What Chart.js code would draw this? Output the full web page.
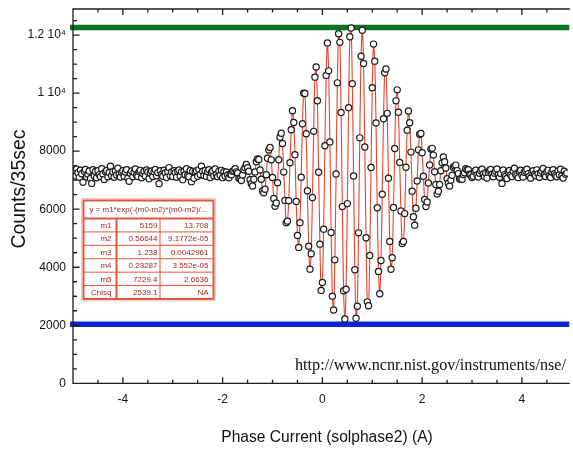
<!DOCTYPE html>
<html>
<head>
<meta charset="utf-8">
<script src="https://cdn.jsdelivr.net/npm/chart.js@4.4.0/dist/chart.umd.min.js"></script>
<style>
  html, body { margin: 0; padding: 0; background: #fff; }
</style>
</head>
<body>
<canvas id="echo" width="573" height="451"></canvas>
<script>
// phase current scan (A)
const phaseCurrent = [
  -5, -4.975, -4.95, -4.925, -4.9, -4.875, -4.85, -4.825, -4.8, -4.775,
  -4.75, -4.725, -4.7, -4.675, -4.65, -4.625, -4.6, -4.575, -4.55, -4.525,
  -4.5, -4.475, -4.45, -4.425, -4.4, -4.375, -4.35, -4.325, -4.3, -4.275,
  -4.25, -4.225, -4.2, -4.175, -4.15, -4.125, -4.1, -4.075, -4.05, -4.025,
  -4, -3.975, -3.95, -3.925, -3.9, -3.875, -3.85, -3.825, -3.8, -3.775,
  -3.75, -3.725, -3.7, -3.675, -3.65, -3.625, -3.6, -3.575, -3.55, -3.525,
  -3.5, -3.475, -3.45, -3.425, -3.4, -3.375, -3.35, -3.325, -3.3, -3.275,
  -3.25, -3.225, -3.2, -3.175, -3.15, -3.125, -3.1, -3.075, -3.05, -3.025,
  -3, -2.975, -2.95, -2.925, -2.9, -2.875, -2.85, -2.825, -2.8, -2.775,
  -2.75, -2.725, -2.7, -2.675, -2.65, -2.625, -2.6, -2.575, -2.55, -2.525,
  -2.5, -2.475, -2.45, -2.425, -2.4, -2.375, -2.35, -2.325, -2.3, -2.275,
  -2.25, -2.225, -2.2, -2.175, -2.15, -2.125, -2.1, -2.075, -2.05, -2.025,
  -2, -1.975, -1.95, -1.925, -1.9, -1.875, -1.85, -1.825, -1.8, -1.775,
  -1.75, -1.725, -1.7, -1.675, -1.65, -1.625, -1.6, -1.575, -1.55, -1.525,
  -1.5, -1.475, -1.45, -1.425, -1.4, -1.375, -1.35, -1.325, -1.3, -1.275,
  -1.25, -1.225, -1.2, -1.175, -1.15, -1.125, -1.1, -1.075, -1.05, -1.025,
  -1, -0.975, -0.95, -0.925, -0.9, -0.875, -0.85, -0.825, -0.8, -0.775,
  -0.75, -0.725, -0.7, -0.675, -0.65, -0.625, -0.6, -0.575, -0.55, -0.525,
  -0.5, -0.475, -0.45, -0.425, -0.4, -0.375, -0.35, -0.325, -0.3, -0.275,
  -0.25, -0.225, -0.2, -0.175, -0.15, -0.125, -0.1, -0.075, -0.05, -0.025,
  0, 0.025, 0.05, 0.075, 0.1, 0.125, 0.15, 0.175, 0.2, 0.225,
  0.25, 0.275, 0.3, 0.325, 0.35, 0.375, 0.4, 0.425, 0.45, 0.475,
  0.5, 0.525, 0.55, 0.575, 0.6, 0.625, 0.65, 0.675, 0.7, 0.725,
  0.75, 0.775, 0.8, 0.825, 0.85, 0.875, 0.9, 0.925, 0.95, 0.975,
  1, 1.025, 1.05, 1.075, 1.1, 1.125, 1.15, 1.175, 1.2, 1.225,
  1.25, 1.275, 1.3, 1.325, 1.35, 1.375, 1.4, 1.425, 1.45, 1.475,
  1.5, 1.525, 1.55, 1.575, 1.6, 1.625, 1.65, 1.675, 1.7, 1.725,
  1.75, 1.775, 1.8, 1.825, 1.85, 1.875, 1.9, 1.925, 1.95, 1.975,
  2, 2.025, 2.05, 2.075, 2.1, 2.125, 2.15, 2.175, 2.2, 2.225,
  2.25, 2.275, 2.3, 2.325, 2.35, 2.375, 2.4, 2.425, 2.45, 2.475,
  2.5, 2.525, 2.55, 2.575, 2.6, 2.625, 2.65, 2.675, 2.7, 2.725,
  2.75, 2.775, 2.8, 2.825, 2.85, 2.875, 2.9, 2.925, 2.95, 2.975,
  3, 3.025, 3.05, 3.075, 3.1, 3.125, 3.15, 3.175, 3.2, 3.225,
  3.25, 3.275, 3.3, 3.325, 3.35, 3.375, 3.4, 3.425, 3.45, 3.475,
  3.5, 3.525, 3.55, 3.575, 3.6, 3.625, 3.65, 3.675, 3.7, 3.725,
  3.75, 3.775, 3.8, 3.825, 3.85, 3.875, 3.9, 3.925, 3.95, 3.975,
  4, 4.025, 4.05, 4.075, 4.1, 4.125, 4.15, 4.175, 4.2, 4.225,
  4.25, 4.275, 4.3, 4.325, 4.35, 4.375, 4.4, 4.425, 4.45, 4.475,
  4.5, 4.525, 4.55, 4.575, 4.6, 4.625, 4.65, 4.675, 4.7, 4.725,
  4.75, 4.775, 4.8, 4.825, 4.85, 4.875, 4.9
];

// counts per 35 sec, same order as phaseCurrent
const counts = [
  // flat part, left
  7215, 7330, 7140, 7382, 7256, 7098, 7341, 7224, 6925, 7305,
  7370, 7112, 7208, 7316, 7059, 6890, 7358, 7156, 7300, 7085,
  7324, 7193, 7130, 7392, 7212, 7026, 7288, 7335, 7121, 7268,
  7480, 7153, 7291, 7100, 7314, 7179, 7415, 7202, 7109, 7277,
  7329, 7136, 7284, 7361, 7068, 6960, 7238, 7320, 7115, 7273,
  7387, 7171, 7128, 7296, 7340, 7080, 7227, 7309, 7144, 7355,
  7282, 7053, 7246, 7318, 7123, 7291, 7372, 7149, 7261, 6880,
  7327, 7198, 7135, 7346, 7254, 7091, 7299, 7434, 7156, 7280,
  7128, 7323, 7262, 7100, 7301, 7349, 7145, 7287, 7018, 7310,
  7190, 7395, 7161, 7118, 7332, 6950, 7304, 7070, 7283, 7326,
  7139, 7365, 7196, 7480, 7308, 7165, 7337, 7131, 7292, 7359,
  7093, 7266, 7321, 7150, 7385, 7194, 7122, 7314, 7169, 7340,
  7088, 7295, 7146, 7280,
  // echo fringes
  7181, 7084, 7208, 7191, 7311, 7320,
  7396, 7287, 7252, 7070, 7050, 6990, 7178, 7359, 7432, 7539,
  7430, 7310, 7013, 6880, 6802, 7034, 7285, 7638, 7729, 7717,
  7353, 7033, 6625, 6563, 6686, 7187, 7757, 8041, 8126, 7701,
  7094, 6373, 6099, 6214, 6913, 7705, 8483, 8618, 8265, 7279,
  6304, 5536, 5589, 6289, 7601, 8739, 9392, 8986, 7881, 6266,
  5093, 4684, 5536, 7104, 8944, 9994, 9986, 8599, 6638, 4722,
  3934, 4466, 6402, 8683, 10552, 10903, 9737, 7274, 4795, 3202,
  3475, 5312, 8187, 10612, 11731, 10769, 8320, 5197, 3004, 2526,
  4254, 7214, 10354, 12047, 11750, 9336, 6089, 3192, 2215, 3239,
  6194, 9500, 11942, 12247, 10327, 7148, 3911, 2243, 2656, 5186,
  8459, 11272, 12165, 11022, 8143, 5014, 2807, 2671, 4408, 7440,
  10190, 11690, 11102, 8969, 6052, 3851, 3084, 4231, 6514, 9120,
  10702, 10831, 9304, 7066, 4889, 3933, 4329, 6059, 8090, 9734,
  10113, 9342, 7613, 5941, 4816, 4891, 5849, 7444, 8724, 9384,
  8979, 7968, 6622, 5744, 5451, 6035, 6974, 8046, 8583, 8612,
  7944, 7138, 6337, 6095, 6250, 6903, 7525, 8071, 8098, 7864,
  7290, 6854, 6520, 6622, 6855, 7323, 7597, 7797, 7634, 7419,
  7048, 6895, 6796, 7000, 7169, 7446, 7486, 7520, 7330, 7227,
  7038, 7056, 7033, 7197, 7255, 7396, 7351, 7363, 7209, 7189,
  7091,
  // flat part, right
  7140, 7302, 7345, 7181, 7106, 7238, 7327, 7380, 7212,
  7129, 7254, 7078, 7276, 7333, 7367, 7205, 7120, 7243, 7312,
  7388, 7186, 7099, 7228, 6890, 7350, 7192, 7135, 7059, 7294,
  7336, 7178, 7123, 7321, 7412, 7200, 7150, 7087, 7298, 7344,
  7171, 7112, 7276, 7329, 7375, 7227, 7138, 7065, 7269, 7323,
  7206, 7154, 7356, 7218, 7102, 7249, 7316, 7401, 7185, 7128,
  7290, 7339, 7147, 7091, 7284, 7358, 7222, 7161, 7116, 7318,
  7190, 7380, 7152, 7075, 7306, 7209, 7245
];

// reference levels (max / min of the echo)
const upperLevel = 12260;
const lowerLevel = 2035;

const xTickValues = [-4, -2, 0, 2, 4];
const yTickValues = [0, 2000, 4000, 6000, 8000, 10000, 12000];

const xTitle = 'Phase Current (solphase2) (A)';
const yTitle = 'Counts/35sec';

// fit result box
const fitFormula = 'y = m1*exp(-(m0-m2)*(m0-m2)/...';
const fitNames = ['m1', 'm2', 'm3', 'm4', 'm5', 'Chisq'];
const fitValues = ['5159', '0.56644', '1.238', '0.23287', '7229.4', '2539.1'];
const fitErrors = ['13.708', '9.1772e-05', '0.0042961', '3.552e-05', '2.6636', 'NA'];

const sourceUrl = 'http://www.ncnr.nist.gov/instruments/nse/';

const points = phaseCurrent.map((x, i) => ({ x: x, y: counts[i] }));

const SANS = '"Liberation Sans", Arial, Helvetica, sans-serif';

const frameAndNotes = {
    id: 'frameAndNotes',
    afterDraw(chart) {
        const ctx = chart.ctx;
        const area = chart.chartArea;
        const xs = chart.scales.x;
        const ys = chart.scales.y;

        ctx.save();
        // axes box with inward ticks
        ctx.strokeStyle = '#1c1c1c';
        ctx.lineWidth = 1.3;
        ctx.beginPath();
        ctx.moveTo(area.right + 2, area.top);
        ctx.lineTo(area.left, area.top);
        ctx.lineTo(area.left, area.bottom);
        ctx.lineTo(area.right + 2, area.bottom);
        for (let i = 0; -5 + i * 0.5 <= xs.max; i++) {
            const v = -5 + i * 0.5;
            const px = xs.getPixelForValue(v);
            const len = v % 2 === 0 ? 6 : 3.5;
            ctx.moveTo(px, area.bottom);
            ctx.lineTo(px, area.bottom - len);
            ctx.moveTo(px, area.top);
            ctx.lineTo(px, area.top + len);
        }
        for (let v = 500; v <= ys.max; v += 500) {
            const py = ys.getPixelForValue(v);
            const len = v % 2000 === 0 ? 6.5 : 4;
            ctx.moveTo(area.left, py);
            ctx.lineTo(area.left + len, py);
        }
        ctx.stroke();

        // axis titles
        ctx.fillStyle = '#111';
        ctx.textAlign = 'center';
        ctx.textBaseline = 'middle';
        ctx.font = '15.6px ' + SANS;
        ctx.fillText(xTitle, 327, 438);
        ctx.save();
        ctx.translate(20, 189);
        ctx.rotate(-Math.PI / 2);
        ctx.font = '19.5px ' + SANS;
        ctx.fillText(yTitle, 0, 0);
        ctx.restore();

        // url note
        ctx.font = '16.2px "Liberation Serif", "Times New Roman", serif';
        ctx.textAlign = 'left';
        ctx.fillText(sourceUrl, 295, 366);

        // fit table
        const tx = 83.5, ty = 200.5, tw = 130, th = 98.5;
        const headH = 18;
        const rowH = (th - headH) / fitNames.length;
        ctx.fillStyle = '#fff';
        ctx.fillRect(tx, ty, tw, th);
        ctx.strokeStyle = '#e2563f';
        ctx.lineWidth = 1;
        ctx.beginPath();
        for (let j = 1; j < fitNames.length; j++) {
            const ry = ty + headH + j * rowH;
            ctx.moveTo(tx, ry);
            ctx.lineTo(tx + tw, ry);
        }
        ctx.moveTo(tx + 76.5, ty + headH);
        ctx.lineTo(tx + 76.5, ty + th);
        ctx.stroke();
        ctx.lineWidth = 2;
        ctx.beginPath();
        ctx.moveTo(tx, ty + headH);
        ctx.lineTo(tx + tw, ty + headH);
        ctx.moveTo(tx + 33, ty + headH);
        ctx.lineTo(tx + 33, ty + th);
        ctx.stroke();
        ctx.strokeRect(tx, ty, tw, th);
        ctx.strokeStyle = 'rgba(226,86,63,0.35)';
        ctx.lineWidth = 1;
        ctx.strokeRect(tx - 2, ty - 2, tw + 4, th + 4);

        ctx.fillStyle = '#a8291a';
        ctx.font = '8px ' + SANS;
        ctx.textAlign = 'center';
        ctx.fillText(fitFormula, tx + tw / 2, ty + headH / 2 + 0.5);
        ctx.textAlign = 'right';
        for (let j = 0; j < fitNames.length; j++) {
            const ry = ty + headH + (j + 0.5) * rowH + 0.5;
            ctx.fillText(fitNames[j], tx + 28, ry);
            ctx.fillText(fitValues[j], tx + 74, ry);
            ctx.fillText(fitErrors[j], tx + 125, ry);
        }
        ctx.restore();
    }
};

Chart.defaults.font.family = SANS;
Chart.defaults.color = '#111';

new Chart(document.getElementById('echo'), {
    type: 'scatter',
    data: {
        datasets: [
            {
                data: points,
                showLine: true,
                borderColor: 'rgba(226,48,22,0.9)',
                borderWidth: 1.1,
                tension: 0.3,
                pointRadius: 3.1,
                pointBorderWidth: 1.2,
                pointBorderColor: '#1a1a1a',
                pointBackgroundColor: '#fff',
                order: 0
            },
            {
                data: [{ x: -5.06, y: upperLevel }, { x: 4.95, y: upperLevel }],
                showLine: true,
                borderColor: '#0a7424',
                borderWidth: 5.5,
                pointRadius: 0,
                clip: false,
                order: 2
            },
            {
                data: [{ x: -5.06, y: lowerLevel }, { x: 4.95, y: lowerLevel }],
                showLine: true,
                borderColor: '#0b24d6',
                borderWidth: 5.5,
                pointRadius: 0,
                clip: false,
                order: 2
            }
        ]
    },
    options: {
        responsive: false,
        animation: false,
        devicePixelRatio: 1,
        layout: { padding: { top: 9, right: 0, bottom: 0, left: 0 } },
        plugins: {
            legend: { display: false },
            tooltip: { enabled: false }
        },
        scales: {
            x: {
                type: 'linear',
                min: -5,
                max: 4.92,
                grid: { display: false, drawTicks: false },
                border: { display: false },
                afterBuildTicks: (scale) => { scale.ticks = xTickValues.map(v => ({ value: v })); },
                afterFit: (scale) => {
                    scale.height = 67.7;
                    scale.paddingLeft = 0;
                    scale.paddingRight = 0;
                },
                ticks: { font: { size: 12 }, color: '#111', padding: 9.5, maxRotation: 0, autoSkip: false }
            },
            y: {
                min: 0,
                max: 12900,
                grid: { display: false, drawTicks: false },
                border: { display: false },
                afterBuildTicks: (scale) => { scale.ticks = yTickValues.map(v => ({ value: v })); },
                afterFit: (scale) => {
                    scale.width = 73;
                    scale.paddingTop = 0;
                    scale.paddingBottom = 0;
                },
                ticks: {
                    font: { size: 12 },
                    color: '#111',
                    padding: 7,
                    callback: (v) => v >= 10000 ? (v / 10000) + ' 10\u2074' : String(v)
                }
            }
        }
    },
    plugins: [frameAndNotes]
});
</script>
</body>
</html>
